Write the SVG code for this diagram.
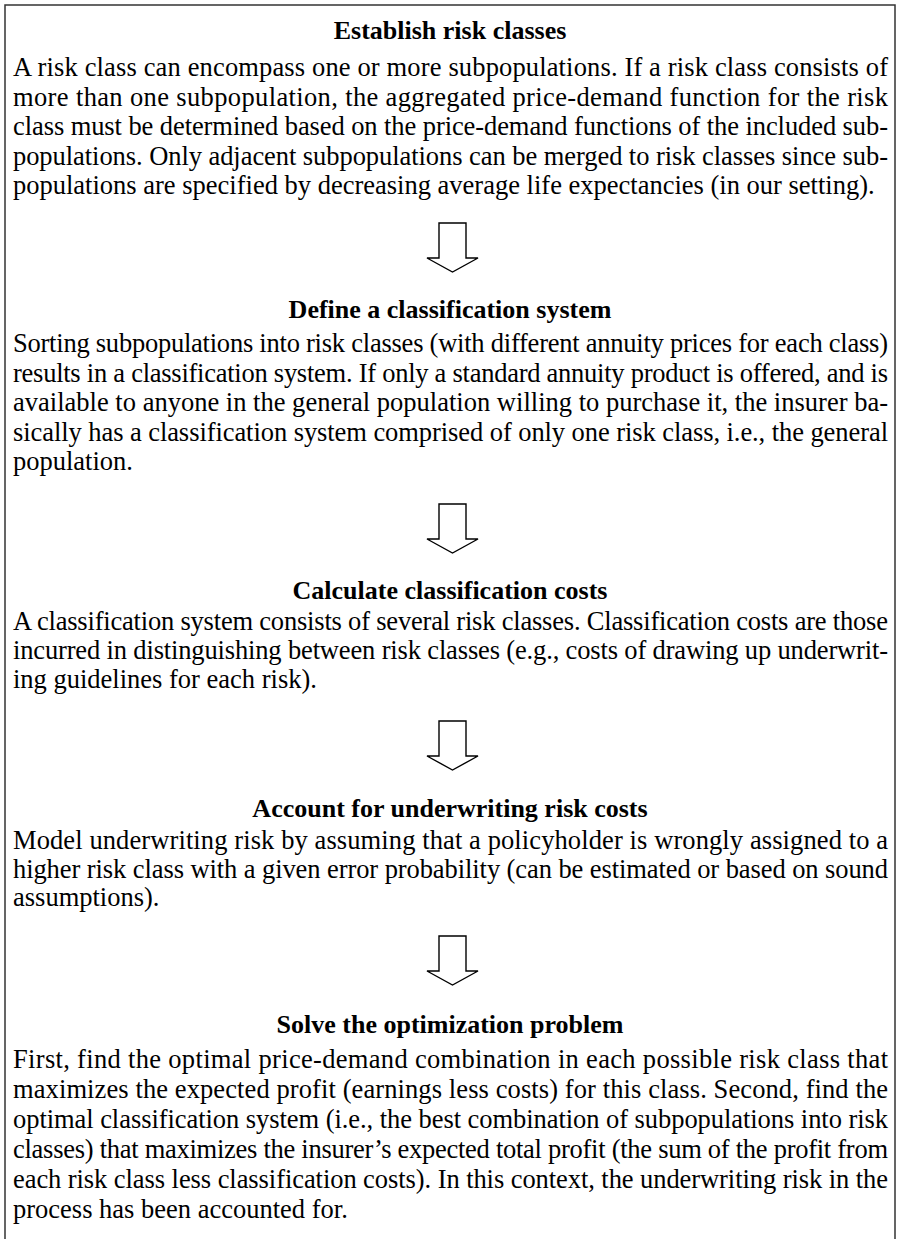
<svg xmlns="http://www.w3.org/2000/svg" width="900" height="1239" viewBox="0 0 900 1239">
<style>
text{font-family:"Liberation Serif","Times New Roman",serif;font-size:26.5px;fill:#000}
.t{font-weight:bold;text-anchor:middle;font-size:26px}
.arrow{fill:#fff;stroke:#000;stroke-width:1.4;stroke-linejoin:miter}
.frame{fill:none;stroke:#333;stroke-width:1.5}
</style>
<defs>
<path id="arr" d="M-13.5,0 H13.5 V35 H25.5 L0,49 L-25.5,35 H-13.5 Z"/>
</defs>
<path class="frame" d="M5,1239 V5 H895 V1239"/>
<g id="step1">
<text class="t" x="450" y="39">Establish risk classes</text>
<text x="13" y="76" textLength="875" lengthAdjust="spacing">A risk class can encompass one or more subpopulations. If a risk class consists of</text>
<text x="13" y="105.5" textLength="875" lengthAdjust="spacing">more than one subpopulation, the aggregated price-demand function for the risk</text>
<text x="13" y="135" textLength="875" lengthAdjust="spacing">class must be determined based on the price-demand functions of the included sub-</text>
<text x="13" y="164.5" textLength="875" lengthAdjust="spacing">populations. Only adjacent subpopulations can be merged to risk classes since sub-</text>
<text x="13" y="194">populations are specified by decreasing average life expectancies (in our setting).</text>
</g>
<g id="step2">
<text class="t" x="450" y="318">Define a classification system</text>
<text x="13" y="352" textLength="875" lengthAdjust="spacing">Sorting subpopulations into risk classes (with different annuity prices for each class)</text>
<text x="13" y="381.5" textLength="875" lengthAdjust="spacing">results in a classification system. If only a standard annuity product is offered, and is</text>
<text x="13" y="411" textLength="875" lengthAdjust="spacing">available to anyone in the general population willing to purchase it, the insurer ba-</text>
<text x="13" y="440.5" textLength="875" lengthAdjust="spacing">sically has a classification system comprised of only one risk class, i.e., the general</text>
<text x="13" y="470">population.</text>
</g>
<g id="step3">
<text class="t" x="450" y="599">Calculate classification costs</text>
<text x="13" y="630" textLength="875" lengthAdjust="spacing">A classification system consists of several risk classes. Classification costs are those</text>
<text x="13" y="659" textLength="875" lengthAdjust="spacing">incurred in distinguishing between risk classes (e.g., costs of drawing up underwrit-</text>
<text x="13" y="688">ing guidelines for each risk).</text>
</g>
<g id="step4">
<text class="t" x="450" y="817">Account for underwriting risk costs</text>
<text x="13" y="849" textLength="875" lengthAdjust="spacing">Model underwriting risk by assuming that a policyholder is wrongly assigned to a</text>
<text x="13" y="877.5" textLength="875" lengthAdjust="spacing">higher risk class with a given error probability (can be estimated or based on sound</text>
<text x="13" y="906">assumptions).</text>
</g>
<g id="step5">
<text class="t" x="450" y="1033">Solve the optimization problem</text>
<text x="13" y="1068" textLength="875" lengthAdjust="spacing">First, find the optimal price-demand combination in each possible risk class that</text>
<text x="13" y="1098" textLength="875" lengthAdjust="spacing">maximizes the expected profit (earnings less costs) for this class. Second, find the</text>
<text x="13" y="1128" textLength="875" lengthAdjust="spacing">optimal classification system (i.e., the best combination of subpopulations into risk</text>
<text x="13" y="1158" textLength="875" lengthAdjust="spacing">classes) that maximizes the insurer’s expected total profit (the sum of the profit from</text>
<text x="13" y="1188" textLength="875" lengthAdjust="spacing">each risk class less classification costs). In this context, the underwriting risk in the</text>
<text x="13" y="1218">process has been accounted for.</text>
</g>
<g id="connectors">
<use href="#arr" class="arrow" x="452.5" y="223"/>
<use href="#arr" class="arrow" x="452.5" y="504"/>
<use href="#arr" class="arrow" x="452.5" y="721"/>
<use href="#arr" class="arrow" x="452.5" y="936"/>
</g>
</svg>
